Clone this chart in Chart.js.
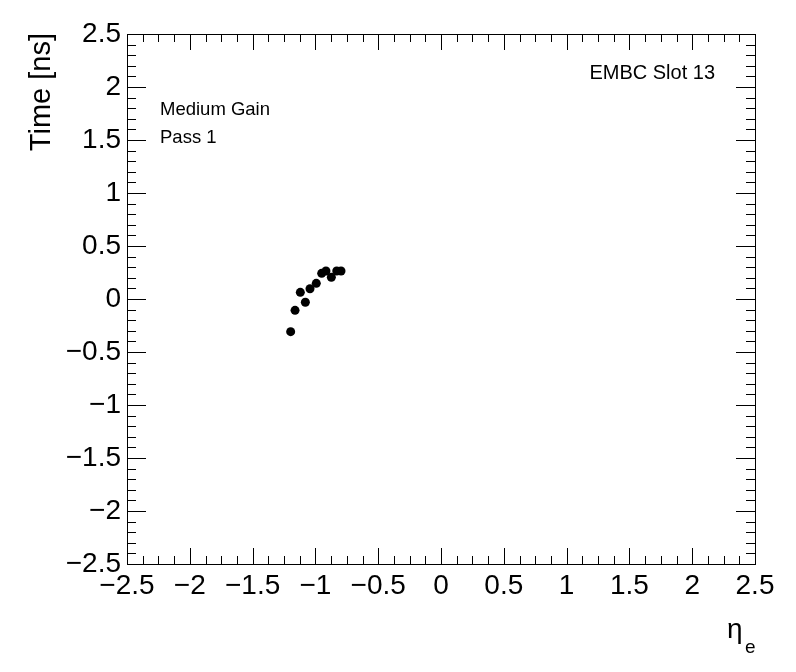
<!DOCTYPE html>
<html>
<head>
<meta charset="utf-8">
<script src="https://cdn.jsdelivr.net/npm/chart.js@4"></script>
<style>
  html, body { margin: 0; padding: 0; background: #fff; }
</style>
</head>
<body>
<canvas id="timeChart" width="796" height="672"></canvas>
<script>
const etaValues = [-1.197, -1.162, -1.120, -1.080, -1.043, -0.993, -0.950, -0.916, -0.873, -0.830, -0.796];
const timeValues = [-0.308, -0.107, 0.063, -0.031, 0.097, 0.148, 0.242, 0.264, 0.205, 0.264, 0.264];
const axisMin = -2.5;
const axisMax = 2.5;
const labelLines = ["Medium Gain", "Pass 1"];
const slotLabel = "EMBC Slot 13";

const fmt = (v) => {
  const s = String(Math.round(v * 10) / 10);
  return s.replace("-", "\u2212");
};

// ROOT style frame with inward ticks on all four sides, plus texts
const frameAndText = {
  id: "frameAndText",
  afterDraw(chart) {
    const ctx = chart.ctx;
    const xs = chart.scales.x;
    const ys = chart.scales.y;
    const a = chart.chartArea;
    ctx.save();
    ctx.strokeStyle = "#000";
    ctx.lineWidth = 1;
    ctx.strokeRect(a.left + 0.5, a.top + 0.5, a.right - a.left, a.bottom - a.top);
    ctx.beginPath();
    for (let i = 0; i <= 40; i++) {
      const v = axisMin + i * 0.125;
      const px = Math.round(xs.getPixelForValue(v)) + 0.5;
      const len = i % 4 === 0 ? 16 : 8;
      ctx.moveTo(px, a.bottom);
      ctx.lineTo(px, a.bottom - len);
      ctx.moveTo(px, a.top);
      ctx.lineTo(px, a.top + len);
    }
    for (let i = 0; i <= 50; i++) {
      const v = axisMin + i * 0.1;
      const py = Math.round(ys.getPixelForValue(v)) + 0.5;
      const len = i % 5 === 0 ? 19 : 9;
      ctx.moveTo(a.left, py);
      ctx.lineTo(a.left + len, py);
      ctx.moveTo(a.right, py);
      ctx.lineTo(a.right - len, py);
    }
    ctx.stroke();

    ctx.fillStyle = "#000";
    ctx.textBaseline = "alphabetic";
    ctx.font = "18.5px 'Liberation Sans', Arial, sans-serif";
    ctx.textAlign = "left";
    ctx.fillText(labelLines[0], 160, 115);
    ctx.fillText(labelLines[1], 160, 143);
    ctx.font = "20px 'Liberation Sans', Arial, sans-serif";
    ctx.textAlign = "right";
    ctx.fillText(slotLabel, 715, 79);

    // y title
    ctx.save();
    ctx.translate(50, 33);
    ctx.rotate(-Math.PI / 2);
    ctx.font = "29px 'Liberation Sans', Arial, sans-serif";
    ctx.textAlign = "right";
    ctx.fillText("Time [ns]", 0, 0);
    ctx.restore();

    // x title eta_e
    ctx.font = "28px 'Liberation Sans', Arial, sans-serif";
    ctx.textAlign = "left";
    ctx.fillText("\u03B7", 727, 638);
    ctx.font = "19px 'Liberation Sans', Arial, sans-serif";
    ctx.fillText("e", 745, 653);
    ctx.restore();
  },
};

const chartElement = document.getElementById("timeChart").getContext("2d");

const data = {
  datasets: [
    {
      label: "Time",
      data: etaValues.map((x, i) => ({ x: x, y: timeValues[i] })),
      backgroundColor: "#000",
      borderWidth: 0,
      pointRadius: 4.5,
      pointHoverRadius: 4.5,
    },
  ],
};

const tickFont = { family: "'Liberation Sans', Arial, sans-serif", size: 28 };

const config = {
  type: "scatter",
  data: data,
  options: {
    responsive: false,
    animation: false,
    layout: { padding: { top: 34, right: 41, left: 0, bottom: 0 } },
    plugins: {
      legend: { display: false },
      tooltip: { enabled: false },
    },
    scales: {
      x: {
        type: "linear",
        min: axisMin,
        max: axisMax,
        grid: { display: false, drawTicks: false },
        border: { display: false },
        ticks: {
          stepSize: 0.5,
          autoSkip: false,
          maxRotation: 0,
          padding: 5,
          color: "#000",
          font: tickFont,
          callback: (v) => fmt(v),
        },
        afterFit: (scale) => {
          scale.height = 108;
        },
      },
      y: {
        type: "linear",
        min: axisMin,
        max: axisMax,
        grid: { display: false, drawTicks: false },
        border: { display: false },
        ticks: {
          stepSize: 0.5,
          autoSkip: false,
          padding: 6,
          color: "#000",
          font: tickFont,
          callback: (v) => fmt(v),
        },
        afterFit: (scale) => {
          scale.width = 127;
        },
      },
    },
  },
  plugins: [frameAndText],
};

new Chart(chartElement, config);
</script>
</body>
</html>
